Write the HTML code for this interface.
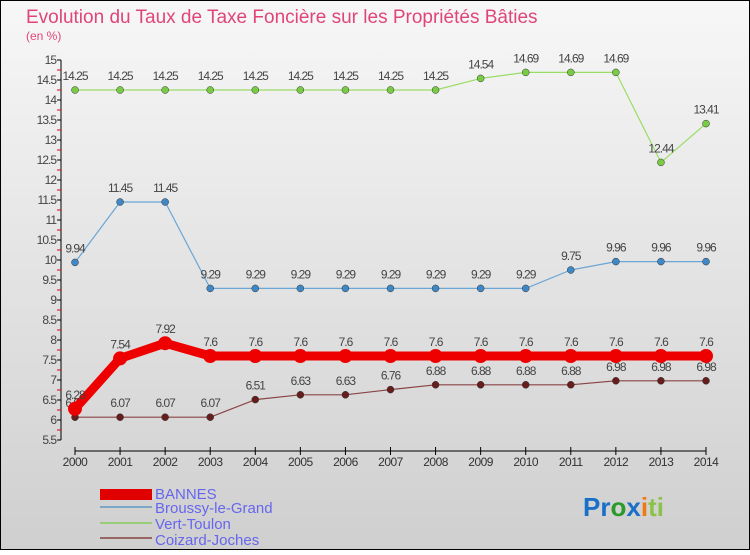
<!DOCTYPE html>
<html><head><meta charset="utf-8"><style>
body{margin:0}
#c{width:750px;height:550px;position:relative;font-family:"Liberation Sans",sans-serif}
</style></head><body>
<div id="c">
<svg width="750" height="550" id="svg" xmlns="http://www.w3.org/2000/svg">
<defs><linearGradient id="bg" x1="0" y1="0" x2="0" y2="1"><stop offset="0" stop-color="#f7f7f7"/><stop offset="1" stop-color="#cfcfcf"/></linearGradient></defs>
<rect x="0.5" y="0.5" width="749" height="549" fill="url(#bg)" stroke="#000"/>
<text x="26" y="23" font-size="19" fill="#e0457a">Evolution du Taux de Taxe Foncière sur les Propriétés Bâties</text>
<text x="26" y="40" font-size="12" fill="#e0457a">(en %)</text>
<g id="axes"></g><g id="series"></g>
<g>
<rect x="100" y="489" width="52" height="11" fill="#e00000"/>
<text x="155" y="499" font-size="15" fill="#6666ee">BANNES</text>
<rect x="100" y="506" width="52" height="2" fill="#7aa7c7"/>
<text x="155" y="513" font-size="15" fill="#6666ee">Broussy-le-Grand</text>
<rect x="100" y="522" width="52" height="2" fill="#99cc77"/>
<text x="155" y="529" font-size="15" fill="#6666ee">Vert-Toulon</text>
<rect x="100" y="537" width="52" height="2" fill="#996666"/>
<text x="155" y="545" font-size="15" fill="#6666ee">Coizard-Joches</text>
</g>
<text x="583" y="516" font-size="26" font-weight="bold"><tspan fill="#1a6fc9">Pr</tspan><tspan fill="#2a9a2a">o</tspan><tspan fill="#1a6fc9">x</tspan><tspan fill="#f07a10">i</tspan><tspan fill="#8bc34a">ti</tspan></text>
</svg>
</div>
<script>
const years=["2000","2001","2002","2003","2004","2005","2006","2007","2008","2009","2010","2011","2012","2013","2014"];
const yTicks=[5.5,6,6.5,7,7.5,8,8.5,9,9.5,10,10.5,11,11.5,12,12.5,13,13.5,14,14.5,15];
const bannes=[6.28,7.54,7.92,7.6,7.6,7.6,7.6,7.6,7.6,7.6,7.6,7.6,7.6,7.6,7.6];
const broussy=[9.94,11.45,11.45,9.29,9.29,9.29,9.29,9.29,9.29,9.29,9.29,9.75,9.96,9.96,9.96];
const vert=[14.25,14.25,14.25,14.25,14.25,14.25,14.25,14.25,14.25,14.54,14.69,14.69,14.69,12.44,13.41];
const coizard=[6.07,6.07,6.07,6.07,6.51,6.63,6.63,6.76,6.88,6.88,6.88,6.88,6.98,6.98,6.98];
const NS="http://www.w3.org/2000/svg";
const xS=i=>75+i*(706-75)/(years.length-1);
const yS=v=>60+(15-v)*40;
function mk(t,a,p){const e=document.createElementNS(NS,t);for(const k in a)e.setAttribute(k,a[k]);p.appendChild(e);return e;}
const ax=document.getElementById('axes');
let l=mk('line',{x1:61,y1:yS(15),x2:61,y2:yS(5.5),stroke:'#000'},ax);


yTicks.forEach(v=>{
 const y=yS(v);
 mk('line',{x1:57,y1:y,x2:61,y2:y,stroke:'#000'},ax);
 if(v<15){const m=mk('line',{x1:57,y1:y-10,x2:61,y2:y-10,stroke:'#e00000'},ax);}
 const t=mk('text',{x:56,y:y+4,'font-size':12,'text-anchor':'end',fill:'#444','letter-spacing':'-1'},ax);
 t.textContent=String(v);
 
 
});
let xa=mk('line',{x1:xS(0),y1:451,x2:xS(years.length-1),y2:451,stroke:'#000'},ax);


years.forEach((yr,i)=>{
 const x=xS(i);
 mk('line',{x1:x,y1:447,x2:x,y2:455,stroke:'#000'},ax);
 const t=mk('text',{x:x,y:466,'font-size':12,'text-anchor':'middle',fill:'#333','letter-spacing':'-0.5'},ax);
 t.textContent=yr;
 
 
});
const sg=document.getElementById('series');
function draw(vals,name,col,dot,w,r){
 const g=mk('g',{},sg);
 
 
 const pl=mk('polyline',{points:vals.map((v,i)=>xS(i)+','+yS(v)).join(' '),fill:'none',stroke:col,'stroke-width':w,'stroke-linejoin':'round'},g);
 
 
 vals.forEach((v,i)=>{
  const c=mk('circle',{cx:xS(i),cy:yS(v),r:r,fill:dot,stroke:w>3?'none':'#333','stroke-width':0.5},g);
  
  
  const t=mk('text',{x:xS(i),y:yS(v)-10,'font-size':12,'text-anchor':'middle',fill:'#444','letter-spacing':'-1'},g);
  t.textContent=String(v);
  
  
 });
}
draw(vert,'vert-toulon','#99dd66','#77cc44',1.2,3.5);
draw(broussy,'broussy-le-grand','#6aa6d6','#3f88c5',1.2,3.5);
draw(coizard,'coizard-joches','#8a4444','#661d1d',1.2,3.5);
draw(bannes,'bannes','#ee0000','#ee0000',9,7);
</script>
</body></html>
